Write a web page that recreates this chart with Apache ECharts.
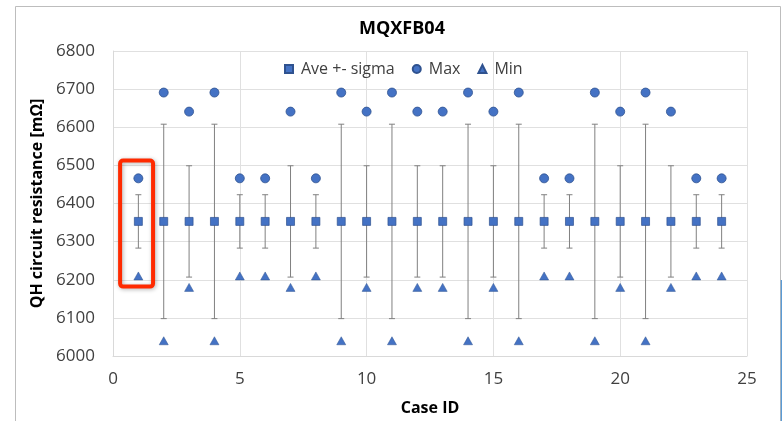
<!DOCTYPE html>
<html>
<head>
<meta charset="utf-8">
<script src="https://cdn.jsdelivr.net/npm/echarts@6/dist/echarts.min.js"></script>
<style>
  html, body { margin: 0; padding: 0; background: #fff; }
  #main { width: 782px; height: 421px; }
</style>
</head>
<body>
<div id="main"></div>
<script>
// data
var caseIds    = [1, 2, 3, 4, 5, 6, 7, 8, 9, 10, 11, 12, 13, 14, 15, 16, 17, 18, 19, 20, 21, 22, 23, 24];
var aveValues  = [6353, 6353, 6353, 6353, 6353, 6353, 6353, 6353, 6353, 6353, 6353, 6353,
                  6353, 6353, 6353, 6353, 6353, 6353, 6353, 6353, 6353, 6353, 6353, 6353];
var sigmaValues = [70, 255, 146, 255, 70, 70, 146, 70, 255, 146, 255, 146,
                   146, 255, 146, 255, 70, 70, 255, 146, 255, 146, 70, 70];
var maxValues  = [6466, 6691, 6641, 6691, 6466, 6466, 6641, 6466, 6691, 6641, 6691, 6641,
                  6641, 6691, 6641, 6691, 6466, 6466, 6691, 6641, 6691, 6641, 6466, 6466];
var minValues  = [6210, 6040, 6180, 6040, 6210, 6210, 6180, 6210, 6040, 6180, 6040, 6180,
                  6180, 6040, 6180, 6040, 6210, 6210, 6040, 6180, 6040, 6180, 6210, 6210];
var yTicks = [6000, 6100, 6200, 6300, 6400, 6500, 6600, 6700, 6800];
var xTicks = [0, 5, 10, 15, 20, 25];
// red highlight round case 1 : [x0, yTop, x1, yBottom]
var highlightBox = [[0.28, 6513, 1.58, 6182]];

var blue = '#4472C4', blueEdge = '#2F528F';
var fontFam = '"Open Sans", "Liberation Sans", sans-serif';

var aveData = [], maxData = [], minData = [], errData = [];
for (var i = 0; i < caseIds.length; i++) {
  aveData.push([caseIds[i], aveValues[i]]);
  maxData.push([caseIds[i], maxValues[i]]);
  minData.push([caseIds[i], minValues[i]]);
  errData.push([caseIds[i], aveValues[i] - sigmaValues[i], aveValues[i] + sigmaValues[i]]);
}

var myChart = echarts.init(document.getElementById('main'));

option = {
  animation: false,
  backgroundColor: '#fff',
  title: {
    text: 'MQXFB04',
    left: 397, top: 15, textAlign: 'center',
    textStyle: { fontFamily: fontFam, fontSize: 18, fontWeight: 'bold', color: '#000' }
  },
  legend: {
    left: 279, top: 56,
    itemWidth: 8, itemHeight: 8, itemGap: 17,
    data: ['Ave +- sigma', 'Max', 'Min'],
    textStyle: { fontFamily: fontFam, fontSize: 16, color: '#404040', padding: [0, 0, 0, 3] }
  },
  grid: { left: 113, right: 35, top: 51, bottom: 63 },
  xAxis: {
    type: 'value', min: xTicks[0], max: xTicks[xTicks.length - 1], interval: 5,
    name: 'Case ID', nameLocation: 'middle', nameGap: 44,
    nameTextStyle: { fontFamily: fontFam, fontSize: 16, fontWeight: 'bold', color: '#000' },
    axisLine: { lineStyle: { color: '#d9d9d9' } },
    axisTick: { show: false },
    axisLabel: { fontFamily: fontFam, fontSize: 17, color: '#404040', margin: 15 },
    splitLine: { lineStyle: { color: '#e0e0e0' } }
  },
  yAxis: {
    type: 'value', min: yTicks[0], max: yTicks[yTicks.length - 1], interval: 100,
    name: 'QH circuit resistance [mΩ]', nameLocation: 'middle', nameGap: 62,
    nameTextStyle: { fontFamily: fontFam, fontSize: 16, fontWeight: 'bold', color: '#000' },
    axisLine: { show: true, lineStyle: { color: '#d9d9d9' } },
    axisTick: { show: false },
    axisLabel: { fontFamily: fontFam, fontSize: 17, color: '#404040', margin: 18,
                 formatter: function (v) { return String(v); } },
    splitLine: { lineStyle: { color: '#e0e0e0' } }
  },
  series: [
    {
      name: 'sigma', type: 'custom', z: 1,
      data: errData,
      renderItem: function (params, api) {
        var x = api.value(0);
        var pLo = api.coord([x, api.value(1)]);
        var pHi = api.coord([x, api.value(2)]);
        var st = { stroke: '#808080', lineWidth: 1 };
        var c = 3;
        return {
          type: 'group',
          children: [
            { type: 'line', shape: { x1: pLo[0], y1: pLo[1], x2: pHi[0], y2: pHi[1] }, style: st },
            { type: 'line', shape: { x1: pHi[0] - c, y1: pHi[1], x2: pHi[0] + c, y2: pHi[1] }, style: st },
            { type: 'line', shape: { x1: pLo[0] - c, y1: pLo[1], x2: pLo[0] + c, y2: pLo[1] }, style: st }
          ]
        };
      }
    },
    {
      name: 'Ave +- sigma', type: 'scatter', z: 3,
      symbol: 'rect', symbolSize: 8, data: aveData,
      itemStyle: { color: blue, borderColor: blueEdge, borderWidth: 0.7, opacity: 1 }
    },
    {
      name: 'Max', type: 'scatter', z: 3,
      symbol: 'circle', symbolSize: 9, data: maxData,
      itemStyle: { color: blue, borderColor: blueEdge, borderWidth: 0.8, opacity: 1 }
    },
    {
      name: 'Min', type: 'scatter', z: 3,
      symbol: 'triangle', symbolSize: [9, 8], data: minData,
      itemStyle: { color: blue, borderColor: blueEdge, borderWidth: 0.5, opacity: 1 }
    },
    {
      name: 'box', type: 'custom', z: 5, silent: true,
      data: highlightBox,
      renderItem: function (params, api) {
        var p0 = api.coord([api.value(0), api.value(1)]);
        var p1 = api.coord([api.value(2), api.value(3)]);
        return {
          type: 'rect',
          shape: { x: p0[0], y: p0[1], width: p1[0] - p0[0], height: p1[1] - p0[1], r: 3 },
          style: { fill: null, stroke: '#FF2A00', lineWidth: 4,
                   shadowBlur: 4, shadowColor: 'rgba(0,0,0,0.3)', shadowOffsetX: 1, shadowOffsetY: 1 }
        };
      }
    }
  ],
  graphic: [
    { type: 'rect', shape: { x: 15.5, y: 6.5, width: 765, height: 440 },
      style: { fill: null, stroke: '#bdbdbd', lineWidth: 1 }, z: 0 },
    { type: 'line', shape: { x1: 781.5, y1: 280, x2: 781.5, y2: 421 },
      style: { stroke: '#5b9bd5', lineWidth: 1.5 } }
  ]
};
myChart.setOption(option, true);
</script>
</body>
</html>
